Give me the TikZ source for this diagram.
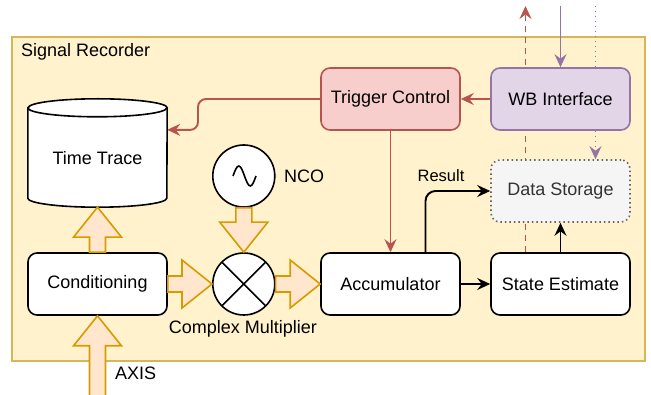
\documentclass[tikz,border=0pt]{standalone}
\usepackage{fontspec}
\setmainfont{Liberation Sans}
\usetikzlibrary{calc,arrows.meta}

\definecolor{recfill}{HTML}{FFF2CC}
\definecolor{recline}{HTML}{D6B656}
\definecolor{fatfill}{HTML}{FFE6CC}
\definecolor{fatline}{HTML}{D79B00}
\definecolor{trigfill}{HTML}{F8CECC}
\definecolor{trigline}{HTML}{B85450}
\definecolor{wbfill}{HTML}{E1D5E7}
\definecolor{wbline}{HTML}{9673A6}
\definecolor{dsfill}{HTML}{F5F5F5}
\definecolor{dsline}{HTML}{666666}
\definecolor{dstext}{HTML}{333333}

\pgfdeclarelayer{back}
\pgfdeclarelayer{mid}
\pgfsetlayers{back,mid,main}

% broad block arrow from #1 to #2 (tip at #2)
\newcommand\fatarrow[2]{%
  \draw[fat] let \p1=(#1), \p2=(#2),
    \n1={veclen(\x2-\x1,\y2-\y1)},
    \n2={(\x2-\x1)/\n1}, \n3={(\y2-\y1)/\n1} in
    ({\x1-8*(\n3)},{\y1+8*(\n2)})
    -- ({\x2-30*(\n2)-8*(\n3)},{\y2-30*(\n3)+8*(\n2)})
    -- ({\x2-30*(\n2)-24*(\n3)},{\y2-30*(\n3)+24*(\n2)})
    -- (\p2)
    -- ({\x2-30*(\n2)+24*(\n3)},{\y2-30*(\n3)-24*(\n2)})
    -- ({\x2-30*(\n2)+8*(\n3)},{\y2-30*(\n3)-8*(\n2)})
    -- ({\x1+8*(\n3)},{\y1-8*(\n2)}) -- cycle;}

\begin{document}
\begin{tikzpicture}[x=1pt,y=-1pt,
  every node/.style={font=\fontsize{18}{22}\selectfont, inner sep=0pt},
  box/.style={draw, rounded corners=9pt, line width=1.6pt, fill=white,
    minimum width=139pt, minimum height=62pt},
  disc/.style={draw, circle, line width=1.6pt, fill=white, minimum size=62pt},
  trigbox/.style={box, draw=trigline, fill=trigfill},
  wbbox/.style={box, draw=wbline, fill=wbfill},
  dsbox/.style={box, draw=dsline, fill=dsfill, text=dstext,
    dash pattern=on 1.5pt off 3pt},
  fat/.style={draw=fatline, fill=fatfill, line width=1.6pt, line join=miter},
  tip/.style={-{Stealth[length=13pt,width=12pt,inset=4.5pt]}},
  blk/.style={tip, line width=1.9pt, black},
  redln/.style={tip, line width=1.9pt, draw=trigline},
  purln/.style={tip, line width=1.9pt, draw=wbline},
]
\useasboundingbox (0,0) rectangle (651,395);

% container
\begin{pgfonlayer}{back}
  \node[draw=recline, fill=recfill, line width=1.6pt, minimum width=633pt,
    minimum height=324pt] (rec) at (328.5,199) {};
\end{pgfonlayer}
\node[anchor=west] (rectitle) at (21,52) {Signal Recorder};

% time trace cylinder
\node[minimum width=139pt, minimum height=108pt] (tt) at (97.5,153) {};
\draw[line width=1.6pt, fill=white]
  ($(tt.north west)+(0,9)$) -- ($(tt.south west)+(0,-9)$)
  arc[start angle=180, end angle=360, x radius=69.5pt, y radius=9pt]
  -- ($(tt.north east)+(0,9)$)
  arc[start angle=0, end angle=180, x radius=69.5pt, y radius=9pt] -- cycle;
\draw[line width=1.6pt] ($(tt.north west)+(0,9)$)
  arc[start angle=180, end angle=360, x radius=69.5pt, y radius=9pt];
\node (ttlabel) at ($(tt.center)+(0,5)$) {Time Trace};
\coordinate (ttin) at ($(tt.north east)+(0,31)$);

% blocks
\node[box] (cond) at (97.5,284) {Conditioning};
\node[disc] (mult) at (243.8,284) {};
\draw[line width=1.6pt] ($(mult.center)+(45:31pt)$) -- ($(mult.center)+(225:31pt)$);
\draw[line width=1.6pt] ($(mult.center)+(135:31pt)$) -- ($(mult.center)+(315:31pt)$);
\node (multlabel) at (243,329) {Complex Multiplier};
\node[disc] (nco) at (243.8,176) {};
\draw[line width=1.6pt] (233,176) sin (238.8,166) cos (244.5,176) sin (250.3,186) cos (256,176);
\node[anchor=west] (ncolabel) at (284,176) {NCO};
\node[box] (acc) at (390.5,284) {Accumulator};
\node[box] (se) at (560.5,284) {State Estimate};
\node[trigbox] (trig) at (390.5,99) {Trigger Control};
\node[wbbox] (wb) at (560.5,99) {WB Interface};
\node[dsbox] (ds) at (560.5,191) {Data Storage};

% outside ends
\coordinate (trigout) at (525.5,6);
\coordinate (wbin) at (560.5,6);
\coordinate (dsin) at (595.5,6);

% connectors
\begin{pgfonlayer}{mid}
  \draw[redln, rounded corners=8pt] (trig.west) -| (198,130) -- (ttin);
  \draw[redln] (wb.west) -- (trig.east);
  \draw[redln] (trig.south) -- (acc.north);
  \draw[redln, dash pattern=on 6pt off 5pt] ($(se.north)+(-35,0)$) -- (trigout);
  \draw[purln] (wbin) -- (wb.north);
  \draw[purln, dash pattern=on 1.5pt off 3.5pt] (dsin) -- (dsin |- ds.north);
  \draw[blk] (acc.east) -- (se.west);
  \draw[blk] (se.north) -- (ds.south);
  \draw[blk, rounded corners=10pt] ($(acc.north)+(35,0)$) |- (ds.west);
\end{pgfonlayer}
\node[font=\fontsize{16.5}{20}\selectfont] (resultlabel) at (441,176) {Result};

% broad data arrows
\coordinate (axisin) at (97.5,396);
\fatarrow{axisin}{cond.south}
\fatarrow{cond.north}{tt.south}
\fatarrow{cond.east}{mult.west}
\fatarrow{mult.east}{acc.west}
\fatarrow{nco.south}{mult.north}
\node[anchor=west] (axislabel) at (115,373) {AXIS};
\end{tikzpicture}
\end{document}
